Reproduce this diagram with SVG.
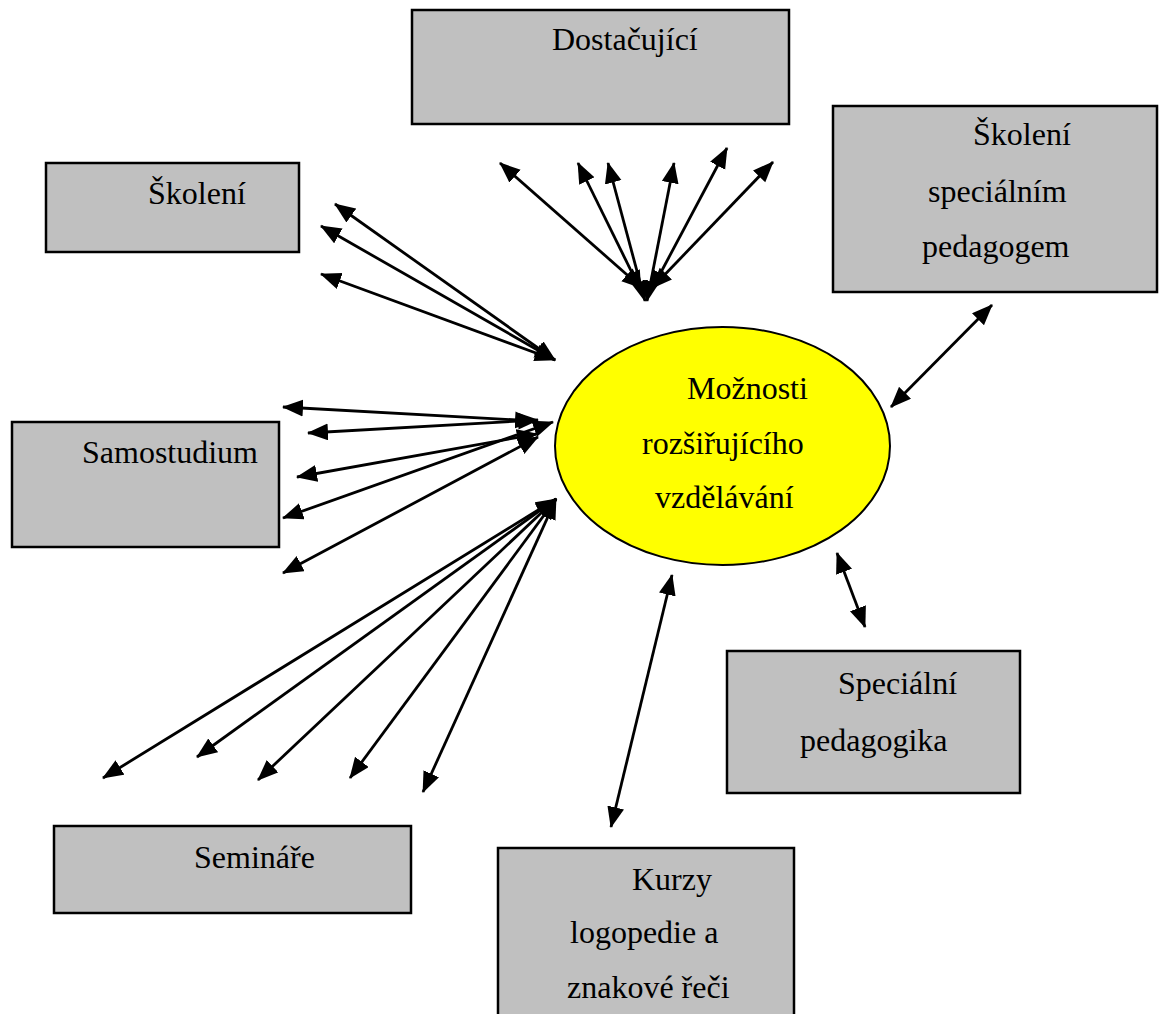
<svg xmlns="http://www.w3.org/2000/svg" width="1159" height="1014" viewBox="0 0 1159 1014">
<defs>
<marker id="ah" markerUnits="userSpaceOnUse" markerWidth="22" markerHeight="18" refX="20" refY="8.5" orient="auto-start-reverse" viewBox="0 0 22 18">
<path d="M0,0 L21,8.5 L0,17 z" fill="#000"/>
</marker>
<style>
.box{fill:#C0C0C0;stroke:#000;stroke-width:2.5}
.t{font-family:"Liberation Serif","Times New Roman",serif;font-size:32px;fill:#000}
.c line{stroke:#000;stroke-width:2.8;marker-start:url(#ah);marker-end:url(#ah)}
</style>
</defs>
<rect width="1159" height="1014" fill="#fff"/>
<g id="dostacujici"><rect class="box" x="412" y="10" width="377" height="114"/><text class="t" x="552" y="50">Dostačující</text></g>
<g id="skoleni"><rect class="box" x="46" y="163" width="253" height="89"/><text class="t" x="148" y="204">Školení</text></g>
<g id="skoleni-spec"><rect class="box" x="833" y="106" width="324" height="186"/><text class="t" x="973" y="145">Školení</text><text class="t" x="928" y="202">speciálním</text><text class="t" x="922" y="257">pedagogem</text></g>
<g id="samostudium"><rect class="box" x="12" y="422" width="267" height="125"/><text class="t" x="82" y="463" textLength="176" lengthAdjust="spacingAndGlyphs">Samostudium</text></g>
<g id="seminare"><rect class="box" x="54" y="826" width="357" height="87"/><text class="t" x="194" y="868">Semináře</text></g>
<g id="specialni-pedagogika"><rect class="box" x="727" y="651" width="293" height="142"/><text class="t" x="838" y="694">Speciální</text><text class="t" x="800" y="751">pedagogika</text></g>
<g id="kurzy"><rect class="box" x="498" y="848" width="296" height="180"/><text class="t" x="632" y="890">Kurzy</text><text class="t" x="570" y="943">logopedie a</text><text class="t" x="567" y="998">znakové řeči</text></g>
<g id="moznosti"><ellipse cx="722.5" cy="446" rx="167.5" ry="119" fill="#FFFF00" stroke="#000" stroke-width="2"/><text class="t" x="687" y="399">Možnosti</text><text class="t" x="642" y="454">rozšiřujícího</text><text class="t" x="655" y="508">vzdělávání</text></g>
<g id="connectors" class="c">
<line x1="500" y1="163" x2="642" y2="288"/>
<line x1="578" y1="163" x2="641" y2="291"/>
<line x1="608" y1="163" x2="645" y2="301"/>
<line x1="674" y1="163" x2="647" y2="301"/>
<line x1="727" y1="148" x2="651" y2="291"/>
<line x1="773" y1="162" x2="652" y2="288"/>
<line x1="335" y1="204" x2="555" y2="360"/>
<line x1="321" y1="226" x2="555" y2="360"/>
<line x1="321" y1="274" x2="555" y2="360"/>
<line x1="283" y1="407" x2="535" y2="421"/>
<line x1="308" y1="433" x2="538" y2="420"/>
<line x1="297" y1="477" x2="537" y2="434"/>
<line x1="283" y1="518" x2="553" y2="422"/>
<line x1="283" y1="573" x2="538" y2="437"/>
<line x1="103" y1="778" x2="556" y2="499"/>
<line x1="197" y1="757" x2="556" y2="499"/>
<line x1="258" y1="780" x2="556" y2="499"/>
<line x1="350" y1="778" x2="556" y2="499"/>
<line x1="423" y1="792" x2="556" y2="499"/>
<line x1="611" y1="827" x2="672" y2="575"/>
<line x1="837" y1="553" x2="865" y2="627"/>
<line x1="891" y1="407" x2="992" y2="305"/>
</g>
</svg>
